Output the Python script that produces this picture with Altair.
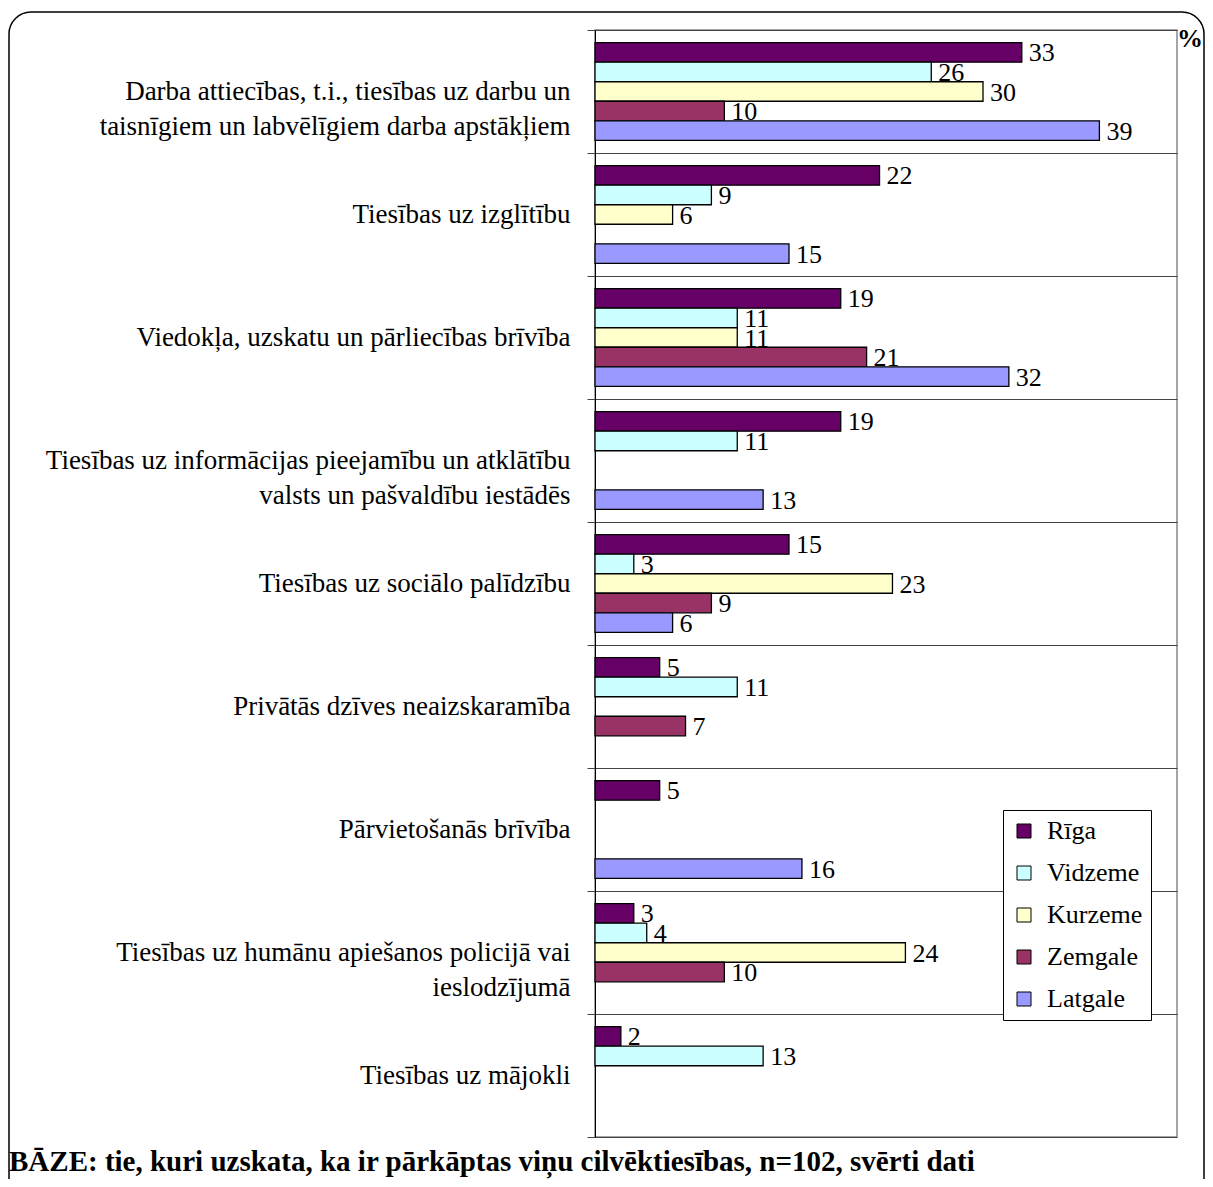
import altair as alt
import pandas as pd

categories = [
    "Darba attiecības, t.i., tiesības uz darbu un\ntaisnīgiem un labvēlīgiem darba apstākļiem",
    "Tiesības uz izglītību",
    "Viedokļa, uzskatu un pārliecības brīvība",
    "Tiesības uz informācijas pieejamību un atklātību\nvalsts un pašvaldību iestādēs",
    "Tiesības uz sociālo palīdzību",
    "Privātās dzīves neaizskaramība",
    "Pārvietošanās brīvība",
    "Tiesības uz humānu apiešanos policijā vai\nieslodzījumā",
    "Tiesības uz mājokli",
]
series = ["Rīga", "Vidzeme", "Kurzeme", "Zemgale", "Latgale"]
colors = ["#660066", "#CCFFFF", "#FFFFCC", "#993366", "#9999FF"]

riga = [33, 22, 19, 19, 15, 5, 5, 3, 2]
vidzeme = [26, 9, 11, 11, 3, 11, None, 4, 13]
kurzeme = [30, 6, 11, None, 23, None, None, 24, None]
zemgale = [10, None, 21, None, 9, 7, None, 10, None]
latgale = [39, 15, 32, 13, 6, None, 16, None, None]

footer = "BĀZE: tie, kuri uzskata, ka ir pārkāptas viņu cilvēktiesības, n=102, svērti dati"

rows = []
for s, vals in zip(series, [riga, vidzeme, kurzeme, zemgale, latgale]):
    for c, v in zip(categories, vals):
        if v is not None:
            rows.append({"category": c, "series": s, "value": v})
df = pd.DataFrame(rows)

W, H = 582, 1107
FONT = "Liberation Serif"

y_enc = alt.Y(
    "category:N",
    sort=categories,
    scale=alt.Scale(paddingInner=0, paddingOuter=0),
    axis=alt.Axis(
        title=None,
        labelExpr="split(datum.label, '\\n')",
        labelFont=FONT,
        labelFontSize=27,
        labelColor="black",
        labelPadding=17,
        labelLineHeight=35,
        labelLimit=700,
        domainColor="black",
        domainWidth=1,
        tickColor="#444",
        tickSize=8,
        tickBand="extent",
        grid=True,
        gridColor="#444",
        gridWidth=1,
    ),
)
yoff = alt.YOffset(
    "series:N", sort=series, scale=alt.Scale(paddingInner=0, paddingOuter=0.65)
)
x_enc = alt.X("value:Q", scale=alt.Scale(domain=[0, 45]), axis=None)

base = alt.Chart(df)

labels = base.mark_text(
    align="left", baseline="middle", dx=7, dy=1, font=FONT, fontSize=26, color="black"
).encode(y=y_enc, yOffset=yoff, x=x_enc, text="value:Q")

bars = base.mark_bar(stroke="black", strokeWidth=1.3).encode(
    y=y_enc,
    yOffset=yoff,
    x=x_enc,
    color=alt.Color(
        "series:N",
        sort=series,
        scale=alt.Scale(domain=series, range=colors),
        legend=alt.Legend(
            title=None,
            orient="none",
            legendX=408,
            legendY=780,
            fillColor="white",
            strokeColor="black",
            padding=8,
            symbolType="square",
            symbolSize=196,
            symbolStrokeColor="black",
            symbolStrokeWidth=1,
            labelFont=FONT,
            labelFontSize=26,
            labelColor="black",
            labelOffset=10,
            rowPadding=16,
            labelLimit=200,
        ),
    ),
)

one = pd.DataFrame({"t": ["%"]})
pct = alt.Chart(one).mark_text(
    font=FONT, fontSize=26, fontWeight="bold", color="black", align="center", baseline="middle"
).encode(text="t:N", x=alt.value(595), y=alt.value(9))

foot = alt.Chart(pd.DataFrame({"t": [footer]})).mark_text(
    font=FONT, fontSize=29, fontWeight="bold", color="black", align="left", baseline="alphabetic"
).encode(text="t:N", x=alt.value(-586), y=alt.value(1141))

frame = alt.Chart(one).mark_rect(
    fillOpacity=0, stroke="black", strokeWidth=1.5, cornerRadius=22
).encode(x=alt.value(-586), x2=alt.value(609), y=alt.value(-18), y2=alt.value(1200))

chart = alt.layer(frame, labels, bars, pct, foot).properties(
    width=W,
    height=H,
    autosize="none",
    padding={"left": 587, "top": 22, "right": 28, "bottom": 42},
).configure_view(stroke="#888", strokeWidth=1.5)

chart.save("out.html", embed_options={"renderer": "svg", "actions": False})
